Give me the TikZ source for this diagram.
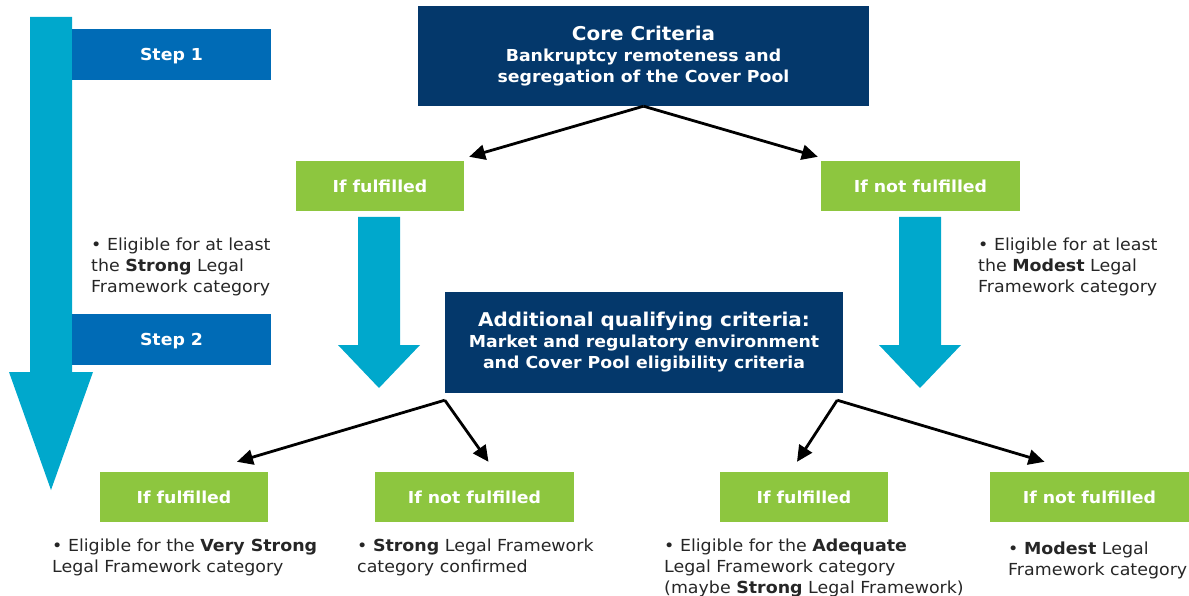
\documentclass[tikz,border=0pt]{standalone}
\usepackage{fontspec}
\setmainfont{DejaVu Sans}[FakeStretch=1.05]
\usetikzlibrary{arrows.meta,calc}

\definecolor{navy}{HTML}{04386B}
\definecolor{stepblue}{HTML}{006BB6}
\definecolor{flowcyan}{HTML}{00A8CC}
\definecolor{leafgreen}{HTML}{8DC63F}
\definecolor{bodytext}{HTML}{262626}

\begin{document}
\begin{tikzpicture}[x=1pt,y=-1pt,
  criteria/.style={fill=navy, text=white, align=center, inner sep=0,
    font=\fontsize{16.5}{21}\selectfont\bfseries},
  stepbox/.style={fill=stepblue, text=white, inner sep=0,
    minimum width=199pt, minimum height=51pt, text depth=0pt,
    font=\fontsize{16.5}{20}\selectfont\bfseries},
  outcome/.style={fill=leafgreen, text=white, inner sep=0,
    minimum height=50pt, font=\fontsize{16.5}{20}\selectfont\bfseries},
  note/.style={text=bodytext, align=left, anchor=north west, inner sep=0,
    font=\fontsize{16.6}{21}\selectfont},
  link/.style={draw=black, line width=2.8pt,
    -{Triangle[length=16pt,width=15pt]}},
  flow/.style={fill=flowcyan}]

\useasboundingbox (0,0) rectangle (1189,596);

% process direction arrow with the two steps
\fill[flow] (30,17) -- (72,17) -- (72,372) -- (93,372) -- (51,490)
  -- (9,372) -- (30,372) -- cycle;
\node[stepbox] (step1) at (171.5,54.5) {Step 1};
\node[stepbox] (step2) at (171.5,339.5) {Step 2};

% step 1: core criteria
\node[criteria, minimum width=451pt, minimum height=100pt] (core) at (643.5,56)
  {{\fontsize{19}{21}\selectfont Core Criteria}\\
   Bankruptcy remoteness and\\ segregation of the Cover Pool};
\node[outcome, minimum width=168pt] (ful1) at (380,186) {If fulfilled};
\node[outcome, minimum width=199pt] (nful1) at (920.5,186) {If not fulfilled};

\coordinate (t1) at ($(ful1.north east)+(5,-4)$);
\coordinate (t2) at ($(nful1.north west)+(-3,-4)$);
\draw[link] (core.south) -- (t1);
\draw[link] (core.south) -- (t2);

\fill[flow] (358,217) -- (400,217) -- (400,345) -- (420,345) -- (379,388)
  -- (338,345) -- (358,345) -- cycle;
\fill[flow] (899,217) -- (941,217) -- (941,345) -- (961,345) -- (920,388)
  -- (879,345) -- (899,345) -- cycle;

\node[note] (n1) at (91,237.5) {• Eligible for at least\\
  the \textbf{Strong} Legal\\ Framework category};
\node[note] (n2) at (978,237.5) {• Eligible for at least\\
  the \textbf{Modest} Legal\\ Framework category};

% step 2: additional qualifying criteria
\node[criteria, minimum width=398pt, minimum height=101pt] (add) at (644,342.5)
  {{\fontsize{19}{21}\selectfont Additional qualifying criteria:}\\
   Market and regulatory environment\\ and Cover Pool eligibility criteria};

\coordinate (aL) at ($(add.south west)+(0,7)$);
\coordinate (aR) at ($(add.south east)+(-6,7)$);

\node[outcome, minimum width=168pt] (ful2) at (184,497) {If fulfilled};
\node[outcome, minimum width=199pt] (nful2) at (474.5,497) {If not fulfilled};
\node[outcome, minimum width=168pt] (ful3) at (804,497) {If fulfilled};
\node[outcome, minimum width=199pt] (nful3) at (1089.5,497) {If not fulfilled};

\coordinate (t3) at ($(ful2.north)+(53,-10)$);
\coordinate (t4) at ($(nful2.north)+(14,-10)$);
\coordinate (t5) at ($(ful3.north)+(-7,-10)$);
\coordinate (t6) at ($(nful3.north)+(-45,-10)$);
\draw[link] (aL) -- (t3);
\draw[link] (aL) -- (t4);
\draw[link] (aR) -- (t5);
\draw[link] (aR) -- (t6);

\node[note] (n3) at (52,538.5) {• Eligible for the \textbf{Very Strong}\\
  Legal Framework category};
\node[note] (n4) at (357,538.5) {• \textbf{Strong} Legal Framework\\
  category confirmed};
\node[note] (n5) at (664,538.5) {• Eligible for the \textbf{Adequate}\\
  Legal Framework category\\ (maybe \textbf{Strong} Legal Framework)};
\node[note] (n6) at (1008,541.5) {• \textbf{Modest} Legal\\
  Framework category};
\end{tikzpicture}
\end{document}
